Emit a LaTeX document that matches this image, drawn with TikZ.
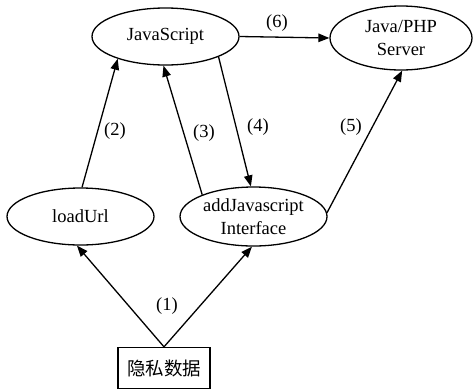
\documentclass[tikz,border=0pt]{standalone}
\usepackage{fontspec}
\setmainfont{Liberation Serif}
\newfontfamily\cjk{Noto Sans CJK SC}
\usetikzlibrary{shapes.geometric,arrows.meta}
\begin{document}
\begin{tikzpicture}[x=1pt,y=-1pt,
  font=\fontsize{18.5}{23}\selectfont,
  every node/.style={inner sep=0pt},
  oval/.style={draw,ellipse,line width=1.3pt,minimum width=147pt,minimum height=57pt,align=center},
  databox/.style={draw,rectangle,line width=1.3pt,minimum width=92pt,minimum height=41pt},
  flow/.style={line width=1.3pt,-{Triangle[length=11pt,width=8.5pt]}},
  tag/.style={}]
\useasboundingbox (0,0) rectangle (473,389);

\node[oval] (js) at (165.5,36.5) {JavaScript};
\node[oval,minimum width=142pt,minimum height=64pt] (srv) at (401,38) {Java/PHP\\Server};
\node[oval] (lu) at (80.5,216.5) {loadUrl};
\node[oval,minimum height=59pt] (aji) at (253.5,216.5) {addJavascript\\Interface};
\node[databox] (pd) at (164,368) {\cjk 隐私数据};

% edges
\draw[flow] (pd.north) -- (lu.263);
\draw[flow] (pd.north) -- (aji.267);
\draw[flow] (lu.87) -- (js.205);
\draw[flow] (aji.157) -- (js.266);
\draw[flow] (js.339) -- (aji.95);
\draw[flow] (aji.3) -- (srv.272);
\draw[flow] (js.east) -- (srv.west);

% step numbers
\node[tag] (n1) at (167,306) {(1)};
\node[tag] (n2) at (115,131) {(2)};
\node[tag] (n3) at (204,133) {(3)};
\node[tag] (n4) at (258,127) {(4)};
\node[tag] (n5) at (351,127) {(5)};
\node[tag] (n6) at (277,23) {(6)};
\end{tikzpicture}
\end{document}
